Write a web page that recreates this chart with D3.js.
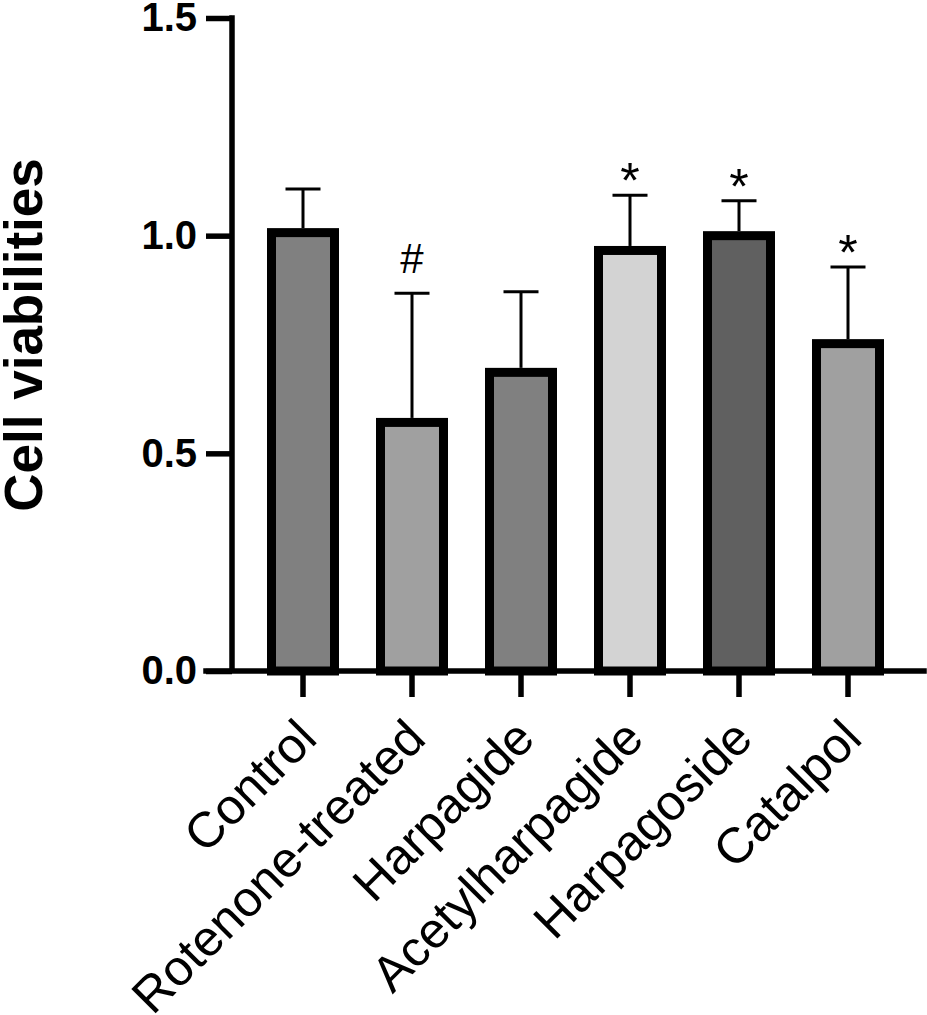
<!DOCTYPE html>
<html>
<head>
<meta charset="utf-8">
<script src="https://cdn.jsdelivr.net/npm/d3@7"></script>
<style>
  body { margin: 0; background: #fff; }
  svg { display: block; }
  text { font-family: "Liberation Sans", Arial, sans-serif; fill: #000; }
</style>
</head>
<body>
<div class="container"></div>
<script>
const groups = ["Control", "Rotenone-treated", "Harpagide", "Acetylharpagide", "Harpagoside", "Catalpol"]
const means = [1.007, 0.571, 0.686, 0.966, 1.000, 0.752]
const sds = [0.100, 0.297, 0.185, 0.127, 0.080, 0.176]
const fills = ["#808080", "#a0a0a0", "#808080", "#d3d3d3", "#606060", "#a0a0a0"]
const marks = ["", "#", "", "*", "*", "*"]
const yTicks = [0, 0.5, 1.0, 1.5]

const w = 927;
const h = 1015;
const axisX = 232;
const axisY = 671;
const axisW = 5.5;

const dataset = groups.map((g, i) => ({ name: g, mean: means[i], sd: sds[i], fill: fills[i], mark: marks[i] }))

const svg = d3.select(".container")
              .append("svg")
              .attr("width", w)
              .attr("height", h)

const xScale = d3.scaleBand()
                 .domain(groups)
                 .range([248.5, 902.5])

const yScale = d3.scaleLinear()
                 .domain([0, 1.5])
                 .range([axisY, 18])

const barW = 63;

// bars
svg.selectAll("rect.bar")
   .data(dataset)
   .enter()
   .append("rect")
   .attr("class", "bar")
   .attr("x", d => xScale(d.name) + xScale.bandwidth() / 2 - barW / 2)
   .attr("y", d => yScale(d.mean))
   .attr("width", barW)
   .attr("height", d => axisY - yScale(d.mean))
   .attr("fill", d => d.fill)
   .attr("stroke", "#000")
   .attr("stroke-width", 9)

// error bars (upper only)
const cx = d => xScale(d.name) + xScale.bandwidth() / 2
svg.selectAll("line.err")
   .data(dataset)
   .enter()
   .append("line")
   .attr("class", "err")
   .attr("x1", cx).attr("x2", cx)
   .attr("y1", d => yScale(d.mean) - 4.5)
   .attr("y2", d => yScale(d.mean + d.sd))
   .attr("stroke", "#000")
   .attr("stroke-width", 3)
svg.selectAll("line.cap")
   .data(dataset)
   .enter()
   .append("line")
   .attr("class", "cap")
   .attr("x1", d => cx(d) - 17.5).attr("x2", d => cx(d) + 17.5)
   .attr("y1", d => yScale(d.mean + d.sd))
   .attr("y2", d => yScale(d.mean + d.sd))
   .attr("stroke", "#000")
   .attr("stroke-width", 3)

// significance marks
svg.selectAll("text.mark")
   .data(dataset.filter(d => d.mark))
   .enter()
   .append("text")
   .attr("class", "mark")
   .attr("x", cx)
   .attr("y", d => yScale(d.mean + d.sd) + (d.mark === "#" ? -20 : 3))
   .attr("text-anchor", "middle")
   .style("font-size", d => d.mark === "#" ? "42px" : "50px")
   .text(d => d.mark)

// y axis
const yAxis = d3.axisLeft(yScale)
                .tickValues(yTicks)
                .tickFormat(d3.format(".1f"))
                .tickSize(26)
                .tickSizeOuter(0)
                .tickPadding(9)
const gy = svg.append("g")
              .attr("transform", "translate(" + axisX + ",0)")
              .call(yAxis)
gy.select(".domain").remove()
gy.selectAll("line").attr("stroke", "#000").attr("stroke-width", axisW)
gy.selectAll("text")
  .attr("fill", "#000")
  .style("font-size", "40px")
  .style("font-weight", "bold")
  .style("font-family", "'Liberation Sans', Arial, sans-serif")

// x axis
const xAxis = d3.axisBottom(xScale)
                .tickSize(26)
                .tickSizeOuter(0)
const gx = svg.append("g")
              .attr("transform", "translate(0," + axisY + ")")
              .call(xAxis)
gx.select(".domain").remove()
gx.selectAll("line").attr("stroke", "#000").attr("stroke-width", axisW)
gx.selectAll("text")
  .attr("x", 0).attr("y", 0).attr("dy", 0)
  .attr("text-anchor", "end")
  .attr("transform", "translate(16,70) rotate(-45)")
  .attr("fill", "#000")
  .style("font-size", "50px")
  .style("font-family", "'Liberation Sans', Arial, sans-serif")

// axis lines
svg.append("path")
   .attr("d", "M" + axisX + "," + yScale(1.5) + "V" + axisY + "M206," + axisY + "H924")
   .attr("fill", "none")
   .attr("stroke", "#000")
   .attr("stroke-width", axisW)
   .attr("stroke-linecap", "square")

// y title
svg.append("text")
   .attr("transform", "translate(42,335) rotate(-90)")
   .attr("text-anchor", "middle")
   .style("font-size", "53px")
   .style("font-weight", "bold")
   .text("Cell viabilities")
</script>
</body>
</html>
